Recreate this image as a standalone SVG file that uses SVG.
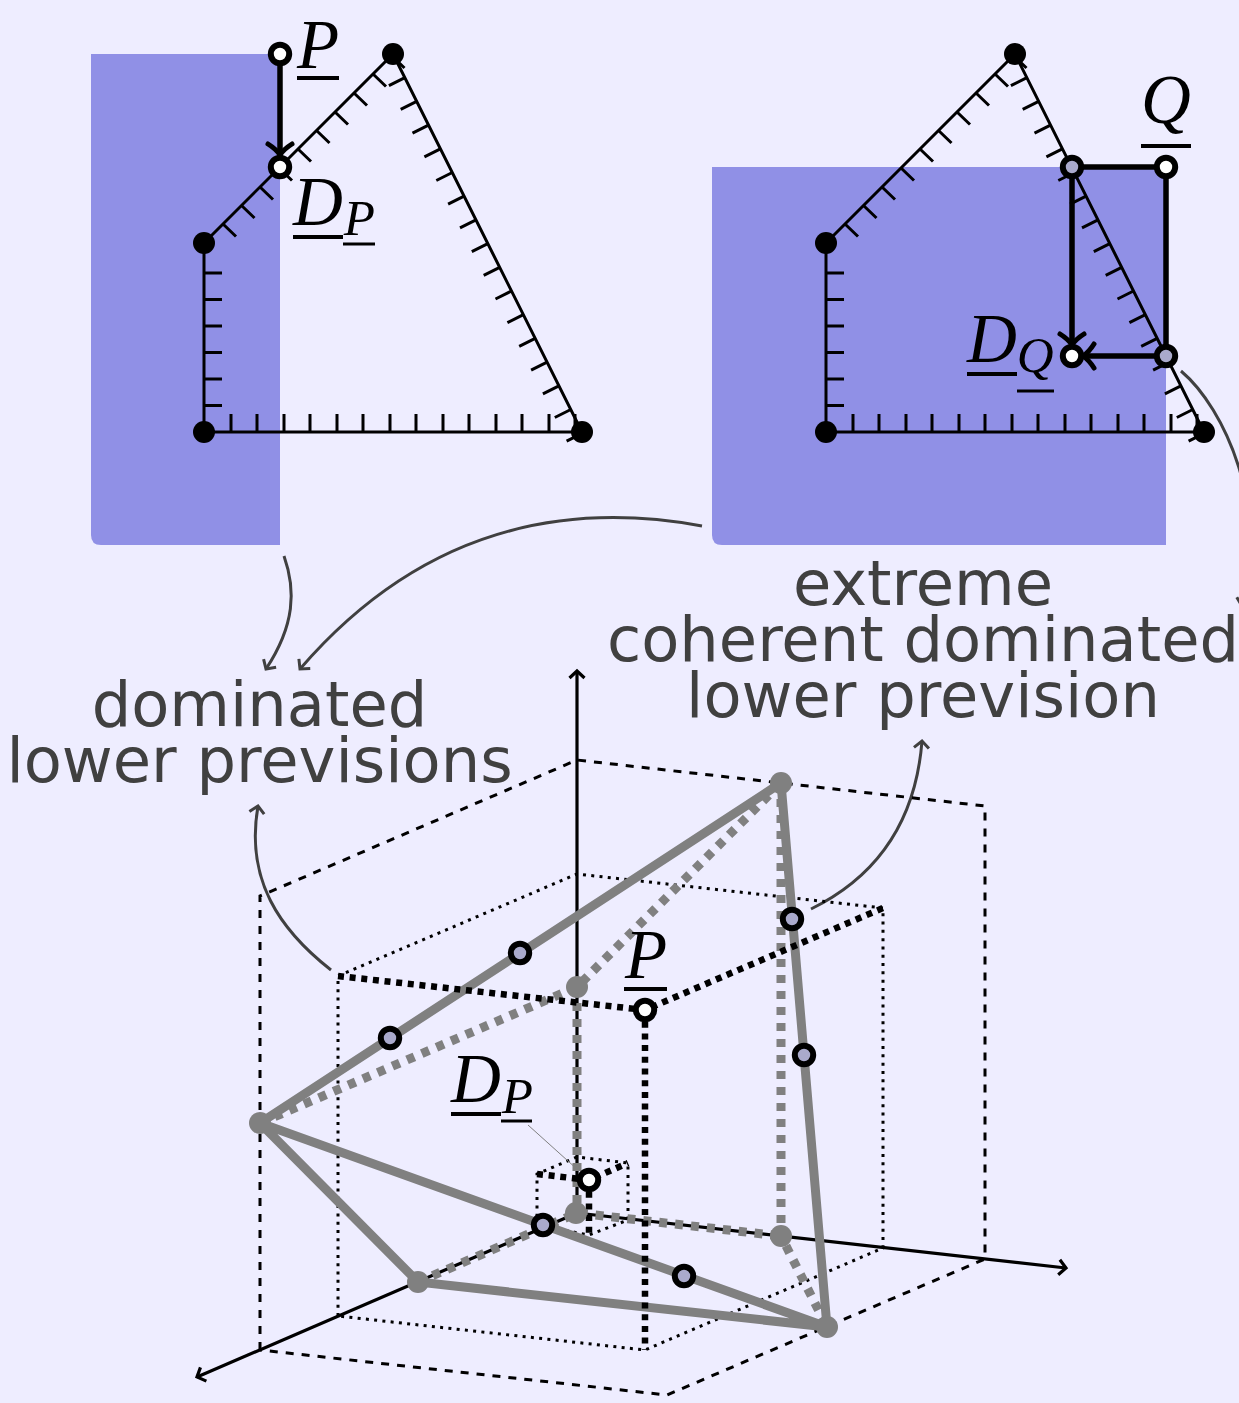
<svg xmlns="http://www.w3.org/2000/svg" xmlns:xlink="http://www.w3.org/1999/xlink" width="1239" height="1403" viewBox="0 0 1239 1403">
<style>
.bg{fill:#eeedff}
.region{fill:#9090e6}
.edge{fill:none;stroke:#000;stroke-width:3}
.dot{fill:#000}
.gdot{fill:#808080}
.mark{stroke:#000;stroke-width:6}
.w{fill:#fff}
.g{fill:#aaaacc}
.move{fill:none;stroke:#000;stroke-width:5.500}
.curve{fill:none;stroke:#404040;stroke-width:3;marker-end:url(#ah)}
.axis{fill:none;stroke:#000;stroke-width:3.200;marker-end:url(#bh)}
.dash{fill:none;stroke:#000;stroke-width:3;stroke-dasharray:8 8}
.dots{fill:none;stroke:#000;stroke-width:3;stroke-dasharray:3 5.300}
.tdots{fill:none;stroke:#000;stroke-width:6.500;stroke-dasharray:6 5.700}
.gsolid{fill:none;stroke:#808080;stroke-width:9}
.gdash{fill:none;stroke:#808080;stroke-width:9;stroke-dasharray:8 8}
.m{font-family:"Liberation Serif","Times New Roman",serif;font-style:italic;fill:#000;font-size:69px}
.s{font-size:51px}
.ul{stroke:#000;stroke-width:4}
.ul2{stroke:#000;stroke-width:3}
.lab{font-family:"DejaVu Sans",sans-serif;font-size:62.300px;fill:#404040;text-anchor:middle}
</style>
<defs>
<marker id="ah" markerUnits="userSpaceOnUse" markerWidth="30" markerHeight="30" refX="15" refY="15" orient="auto" viewBox="0 0 30 30" overflow="visible"><path d="M8 7.500L15 15L8 22.500" fill="none" stroke="#404040" stroke-width="3"/></marker>
<marker id="bh" markerUnits="userSpaceOnUse" markerWidth="30" markerHeight="30" refX="15" refY="15" orient="auto" viewBox="0 0 30 30" overflow="visible"><path d="M8 7.500L15 15L8 22.500" fill="none" stroke="#000" stroke-width="3.200"/></marker>
<marker id="mh" markerUnits="userSpaceOnUse" markerWidth="40" markerHeight="40" refX="20" refY="20" orient="auto" viewBox="0 0 40 40" overflow="visible"><path d="M9 8Q14 16 20 20Q14 24 9 32" fill="none" stroke="#000" stroke-width="5" stroke-linecap="round"/></marker>
<g id="tri">
<path class="edge" d="M204 243L393 54L582 432H204Z"/>
<path class="edge" d="M231 432v-18M257 432v-18M284 432v-18M310 432v-18M337 432v-18M363 432v-18M390 432v-18M416 432v-18M443 432v-18M469 432v-18M496 432v-18M522 432v-18M549 432v-18M575 432v-18M204 405.500h18M204 379h18M204 352.500h18M204 326h18M204 299.500h18M204 273h18M223 224l13 12.500M241.500 205.500l13 12.500M260 187l13 12.500M279 168l13 12.500M298 149l13 12.500M316.500 130.500l13 12.500M335 112l13 12.500M354 93l13 12.500M373 74l13 12.500M391.500 55.500l13 12.500M404.900 77.700l-16 8M416.700 101.400l-16 8M428.500 125.100l-16 8M440.400 148.800l-16 8M452.300 172.500l-16 8M464.100 196.200l-16 8M476 219.900l-16 8M487.800 243.600l-16 8M499.700 267.300l-16 8M511.500 291l-16 8M523.400 314.700l-16 8M535.200 338.400l-16 8M547.100 362.100l-16 8M558.900 385.800l-16 8M570.800 409.500l-16 8M582.600 433.200l-16 8"/>
<circle class="dot" cx="204" cy="243" r="11"/><circle class="dot" cx="393" cy="54" r="11"/><circle class="dot" cx="582" cy="432" r="11"/><circle class="dot" cx="204" cy="432" r="11"/>
</g>
</defs>
<rect class="bg" width="1239" height="1403"/>
<g id="panel-left">
<path class="region" d="M91 54H280V545H101Q91 545 91 535Z"/>
<use href="#tri" xlink:href="#tri"/>
</g>
<g id="panel-right">
<path class="region" d="M712 167H1166V545H722Q712 545 712 535Z"/>
<use href="#tri" xlink:href="#tri" x="622"/>
</g>
<g id="connectors">
<path class="move" d="M280 54V155" marker-end="url(#mh)"/>
<path class="move" d="M1072 167H1166V356"/>
<path class="move" d="M1072 167V345" marker-end="url(#mh)"/>
<path class="move" d="M1166 356H1083" marker-end="url(#mh)"/>
<path class="curve" d="M284 556C296 590 295 625 266 669"/>
<path class="curve" d="M702 526C560 500 420 530 300 669"/>
<path class="curve" d="M1181 371C1225 408 1270 510 1242 606"/>
<path class="curve" d="M331 970C280 930 245 880 258 806"/>
<path class="curve" d="M811 909C870 880 915 830 922 741"/>
</g>
<g id="cube">
<path class="dash" d="M260 1350V896L577 760L985 806V1259L667 1395L260 1350"/>
<path class="dots" d="M338 1316V976L577 874L883 908V1248L645 1350L338 1316"/>
<path class="dots" d="M537 1225V1174L577 1157L628 1163V1220L589 1235L537 1225"/>
<path class="axis" d="M577 1213V671"/>
<path class="axis" d="M577 1213L1066 1268"/>
<path class="axis" d="M577 1213L197 1377"/>
<path class="gsolid" d="M260 1123L781 783L827 1327L260 1123L418 1282L827 1327"/>
<path class="gdash" d="M260 1123L577 987L781 783"/>
<path class="gdash" d="M781 783V1236L827 1327"/>
<path class="gdash" d="M577 987V1213"/>
<path class="gdash" d="M418 1282L577 1213L781 1236"/>
<path class="tdots" d="M338 976L645 1010L883 908"/>
<path class="tdots" d="M645 1010V1350"/>
<path class="tdots" d="M537 1174L589 1180L628 1163"/>
<path class="tdots" d="M589 1180V1235"/>
<path d="M528 1125L578 1170" fill="none" stroke="#808080" stroke-width="1"/>
</g>
<g id="vertices">
<circle class="gdot" cx="260" cy="1123" r="11"/><circle class="gdot" cx="781" cy="783" r="11"/><circle class="gdot" cx="827" cy="1327" r="11"/><circle class="gdot" cx="418" cy="1282" r="11"/><circle class="gdot" cx="577" cy="987" r="11"/><circle class="gdot" cx="576" cy="1213" r="11"/><circle class="gdot" cx="781" cy="1236" r="11"/>
</g>
<g id="node-P"><circle class="mark w" cx="280" cy="54" r="9.200"/><text class="m" x="297" y="68">P</text><line class="ul" x1="297" y1="78" x2="339" y2="78"/></g>
<g id="node-DP"><circle class="mark w" cx="280" cy="167" r="9.200"/><text class="m" x="293" y="225">D<tspan class="s" dy="10" dx="1">P</tspan></text><line class="ul" x1="293" y1="237" x2="343" y2="237"/><line class="ul2" x1="343" y1="244" x2="375" y2="244"/></g>
<g id="node-Q"><circle class="mark w" cx="1166" cy="167" r="9.200"/><text class="m" x="1141" y="123">Q</text><line class="ul" x1="1141" y1="146" x2="1191" y2="146"/></g>
<g id="node-DQ"><circle class="mark w" cx="1072" cy="356" r="9.200"/><text class="m" x="967" y="362">D<tspan class="s" dy="10">Q</tspan></text><line class="ul" x1="967" y1="374" x2="1017" y2="374"/><line class="ul2" x1="1017" y1="391" x2="1054" y2="391"/></g>
<g id="node-Q1"><circle class="mark g" cx="1072" cy="167" r="9.200"/></g>
<g id="node-Q2"><circle class="mark g" cx="1166" cy="356" r="9.200"/></g>
<g id="node-P3d"><circle class="mark w" cx="645" cy="1010" r="9.200"/><text class="m" x="625" y="978">P</text><line class="ul" x1="624" y1="989" x2="667" y2="989"/></g>
<g id="node-DP3d"><circle class="mark w" cx="589" cy="1180" r="9.200"/><text class="m" x="451" y="1102">D<tspan class="s" dy="11" dx="1">P</tspan></text><line class="ul" x1="451" y1="1114" x2="501" y2="1114"/><line class="ul2" x1="501" y1="1121" x2="532" y2="1121"/></g>
<g id="extreme-points">
<circle class="mark g" cx="520" cy="953" r="9.200"/><circle class="mark g" cx="390" cy="1038" r="9.200"/><circle class="mark g" cx="792" cy="919" r="9.200"/><circle class="mark g" cx="804" cy="1055" r="9.200"/><circle class="mark g" cx="543" cy="1225" r="9.200"/><circle class="mark g" cx="684" cy="1276" r="9.200"/>
</g>
<g id="label-extreme"><text class="lab" x="923" y="605">extreme</text><text class="lab" x="923" y="661">coherent dominated</text><text class="lab" x="923" y="717">lower prevision</text></g>
<g id="label-dominated"><text class="lab" x="259.500" y="725.500">dominated</text><text class="lab" x="259.500" y="781.500">lower previsions</text></g>
</svg>
